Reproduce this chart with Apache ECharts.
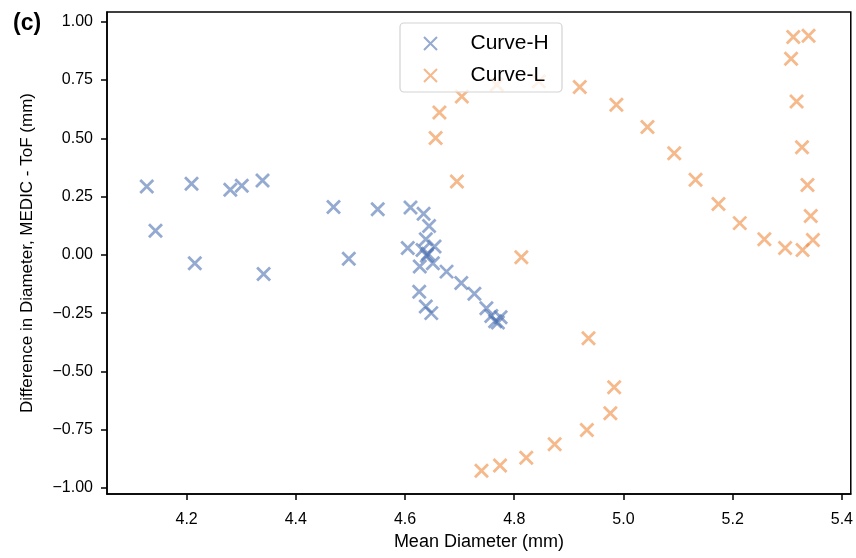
<!DOCTYPE html>
<html>
<head>
<meta charset="utf-8">
<script src="https://cdn.jsdelivr.net/npm/echarts@6/dist/echarts.min.js"></script>
<style>
html,body{margin:0;padding:0;background:#fff;}
#chart{width:856px;height:558px;}
</style>
</head>
<body>
<div id="chart"></div>
<script>
// Curve-H
const curveH_x = [4.127,4.143,4.209,4.215,4.280,4.301,4.339,4.341,4.469,4.497,4.550,4.610,4.634,4.644,4.638,4.605,4.654,4.632,4.642,4.640,4.627,4.651,4.676,4.703,4.727,4.749,4.758,4.765,4.775,4.770,4.626,4.638,4.648];
const curveH_y = [0.293,0.103,0.305,-0.036,0.279,0.296,0.319,-0.082,0.205,-0.017,0.196,0.203,0.176,0.124,0.067,0.029,0.036,0.021,0.005,-0.004,-0.050,-0.036,-0.072,-0.121,-0.167,-0.229,-0.262,-0.285,-0.268,-0.290,-0.158,-0.222,-0.250];
// Curve-L
const curveL_x = [4.740,4.774,4.822,4.874,4.933,4.976,4.983,4.936,4.813,4.695,4.656,4.663,4.704,4.768,4.845,4.920,4.987,5.044,5.093,5.132,5.174,5.213,5.258,5.296,5.328,5.347,5.343,5.337,5.327,5.317,5.307,5.311,5.339];
const curveL_y = [-0.926,-0.904,-0.870,-0.812,-0.751,-0.679,-0.568,-0.358,-0.010,0.315,0.501,0.611,0.679,0.730,0.744,0.720,0.644,0.548,0.436,0.322,0.218,0.136,0.067,0.029,0.021,0.064,0.167,0.300,0.461,0.658,0.841,0.934,0.940];
// tick values
const xTicks = [4.2,4.4,4.6,4.8,5.0,5.2,5.4];
const yTicks = [-1.0,-0.75,-0.5,-0.25,0,0.25,0.5,0.75,1.0];
const seriesNames = ['Curve-H','Curve-L'];
const xName = 'Mean Diameter (mm)';
const yName = 'Difference in Diameter, MEDIC - ToF (mm)';
const panelLabel = '(c)';

const FONT = '"Liberation Sans", Arial, Helvetica, sans-serif';
const blue = '#4c72b0';
const orange = '#ee8a3e';
const xSym = 'path://M0,0L10,10M10,0L0,10';

function zip(a,b){return a.map((v,i)=>[v,b[i]]);}
function fmtY(v){const s=Math.abs(v).toFixed(2);return v<0?'\u2212'+s:s;}

const chart = echarts.init(document.getElementById('chart'), null, {renderer:'canvas'});
chart.setOption({
  animation:false,
  backgroundColor:'#fff',
  grid:{left:107,right:5,top:12,bottom:64,show:true,borderColor:'#000',borderWidth:1.5,backgroundColor:'transparent'},
  xAxis:{
    type:'value',min:4.0542,max:5.4163,
    name:xName,nameLocation:'middle',nameGap:38,
    nameTextStyle:{fontFamily:FONT,fontSize:18,color:'#000'},
    axisLine:{show:true,onZero:false,lineStyle:{color:'#000',width:1.5}},
    axisTick:{show:true,length:6,lineStyle:{color:'#000',width:1.5},customValues:xTicks},
    axisLabel:{fontFamily:FONT,fontSize:16,color:'#000',margin:18,customValues:xTicks,formatter:v=>v.toFixed(1)},
    splitLine:{show:false}
  },
  yAxis:{
    type:'value',min:-1.0258,max:1.0416,
    name:yName,nameLocation:'middle',nameGap:71,
    nameTextStyle:{fontFamily:FONT,fontSize:17,color:'#000'},
    axisLine:{show:true,onZero:false,lineStyle:{color:'#000',width:1.5}},
    axisTick:{show:true,length:6,lineStyle:{color:'#000',width:1.5},customValues:yTicks},
    axisLabel:{fontFamily:FONT,fontSize:16,color:'#000',margin:14,customValues:yTicks,formatter:fmtY},
    splitLine:{show:false}
  },
  legend:{
    show:true,orient:'vertical',left:418,top:28,itemWidth:70,itemHeight:13,itemGap:11,
    z:20,
    data:seriesNames,
    textStyle:{fontFamily:FONT,fontSize:21,color:'#000',lineHeight:20}
  },
  graphic:[
    {type:'rect',z:15,shape:{x:400,y:23,width:162,height:69,r:4},style:{fill:'rgba(255,255,255,0.8)',stroke:'#d3d3d3',lineWidth:1.2}},
    {type:'text',z:15,left:13,top:12,style:{text:panelLabel,font:'bold 23px '+FONT,fill:'#000'}}
  ],
  series:[
    {name:seriesNames[0],type:'scatter',data:zip(curveH_x,curveH_y),symbol:xSym,symbolSize:13,
     itemStyle:{color:blue,borderColor:blue,borderWidth:2.8,opacity:0.6}},
    {name:seriesNames[1],type:'scatter',data:zip(curveL_x,curveL_y),symbol:xSym,symbolSize:13,
     itemStyle:{color:orange,borderColor:orange,borderWidth:2.8,opacity:0.6}}
  ]
});
</script>
</body>
</html>
